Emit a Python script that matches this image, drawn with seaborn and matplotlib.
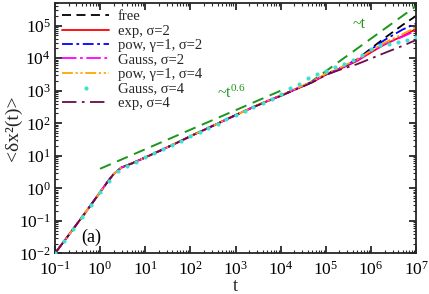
import numpy as np
import pandas as pd
import matplotlib
matplotlib.use("Agg")
import matplotlib.pyplot as plt
import matplotlib.ticker as mticker
import seaborn as sns

# ---------------- data ----------------
t = [0.1, 0.2, 0.5, 1, 1.5, 2, 3, 5, 10, 20, 50, 100, 300, 1000, 3000,
     1e4, 2e4, 5e4, 1e5, 2e5, 5e5, 1e6, 2e6, 5e6, 1e7]

y_free = [0.01, 0.036, 0.2, 0.76, 1.66, 2.75, 4.4, 5.8, 8.9, 13.8, 25, 40, 81, 178, 355,
          708, 1070, 1860, 3160, 4790, 9330, 2.0e4, 4.17e4, 1.05e5, 2.0e5]
y_exp2 = [0.01, 0.036, 0.2, 0.76, 1.66, 2.75, 4.4, 5.8, 8.9, 13.8, 25, 40, 81, 178, 355,
          700, 1060, 1840, 3100, 4570, 8320, 1.51e4, 2.63e4, 4.79e4, 7.94e4]
y_pow2 = [0.01, 0.036, 0.2, 0.76, 1.66, 2.75, 4.4, 5.8, 8.9, 13.8, 25, 40, 81, 178, 355,
          710, 1080, 1880, 3200, 4680, 9120, 1.86e4, 3.63e4, 7.59e4, 1.17e5]
y_gauss2 = [0.01, 0.036, 0.2, 0.76, 1.66, 2.75, 4.4, 5.8, 8.9, 13.8, 25, 40, 81, 178, 355,
            715, 1090, 1900, 3200, 4790, 8710, 1.58e4, 2.75e4, 4.57e4, 7.08e4]
y_pow4 = [0.01, 0.036, 0.2, 0.76, 1.66, 2.75, 4.4, 5.8, 8.9, 13.8, 25, 40, 81, 178, 360,
          720, 1100, 1950, 3300, 5010, 9330, 1.70e4, 3.02e4, 5.50e4, 8.91e4]
y_exp4 = [0.01, 0.036, 0.2, 0.76, 1.66, 2.75, 4.4, 5.8, 8.9, 13.8, 25, 40, 81, 178, 350,
          690, 1040, 1800, 3050, 4370, 6610, 9770, 1.45e4, 2.40e4, 3.63e4]

t_gauss4 = [0.1, 0.16, 0.25, 0.4, 0.63, 1.0, 1.6, 2.5, 4.0, 6.3, 10, 16, 25, 40, 63, 100,
            160, 250, 400, 630, 1000, 1600, 2500, 4000, 6300, 1e4, 1.6e4, 2.5e4, 4e4,
            6.3e4, 1e5, 1.6e5, 2.5e5, 4e5, 6.3e5, 1e6, 1.6e6, 2.5e6, 4e6, 6.3e6, 1e7]
y_gauss4 = [0.01, 0.0234, 0.055, 0.132, 0.309, 0.76, 1.74, 3.31, 4.79, 6.46, 8.91, 12.0,
            16.2, 21.9, 29.5, 39.8, 53.7, 72.4, 97.7, 132, 178, 234, 316, 427, 575, 794,
            1175, 1660, 2400, 3160, 4170, 5250, 6610, 8910, 1.26e4, 1.86e4, 2.51e4,
            2.82e4, 3.16e4, 3.72e4, 4.57e4]

guide06_t = [1, 1.2e4]
guide06_y = [4.0, 1120]
guide1_t = [4e4, 1e7]
guide1_y = [1600, 4.0e5]

labels = ["free", "exp, σ=2", "pow, γ=1, σ=2", "Gauss, σ=2",
          "pow, γ=1, σ=4", "Gauss, σ=4", "exp, σ=4"]

# ---------------- style ----------------
sns.set_style("ticks")
plt.rcParams["font.family"] = ["Liberation Serif", "DejaVu Serif"]
plt.rcParams["mathtext.fontset"] = "custom"
plt.rcParams["mathtext.rm"] = "Liberation Serif"
plt.rcParams["mathtext.it"] = "Liberation Serif:italic"
plt.rcParams["mathtext.default"] = "rm"
plt.rcParams["axes.unicode_minus"] = False
plt.rcParams["axes.linewidth"] = 1.3
plt.rcParams["xtick.direction"] = "in"
plt.rcParams["ytick.direction"] = "in"
plt.rcParams["xtick.top"] = True
plt.rcParams["ytick.right"] = True

fig = plt.figure(figsize=(4.29, 2.94), dpi=100)
ax = fig.add_axes([0.128, 0.138, 0.842, 0.852])

lw = 1.3
green = "#1a961a"

def line(x, y, **kw):
    df = pd.DataFrame({"t": x, "y": y})
    sns.lineplot(data=df, x="t", y="y", ax=ax, errorbar=None, sort=False, **kw)

line(guide06_t, guide06_y, color=green, lw=1.4, linestyle=(0, (6, 3.5)))
line(guide1_t, guide1_y, color=green, lw=1.4, linestyle=(0, (6, 3.5)))

line(t, y_free, color="black", lw=lw, linestyle=(0, (5, 3)), label=labels[0])
line(t, y_exp2, color="#ff0000", lw=lw, linestyle="-", label=labels[1])
line(t, y_pow2, color="#0000ff", lw=lw, linestyle=(0, (6, 2, 1.5, 2)), label=labels[2])
line(t, y_gauss2, color="#ff00ff", lw=lw, linestyle=(0, (8, 2, 1.5, 2)), label=labels[3])
line(t, y_pow4, color="#ffa500", lw=lw, linestyle=(0, (6, 1.5, 1.2, 1.5, 1.2, 1.5)), label=labels[4])
sns.scatterplot(x=t_gauss4, y=y_gauss4, ax=ax, color="#40e0d0", s=9, linewidth=0,
                label=labels[5], zorder=3)
line(t, y_exp4, color="#6b0a4a", lw=lw, linestyle=(0, (8, 3, 1.5, 3)), label=labels[6])

ax.set_xscale("log")
ax.set_yscale("log")
ax.set_xlim(0.1, 1e7)
ax.set_ylim(1e-2, 5e5)

ax.xaxis.set_major_locator(mticker.LogLocator(base=10, numticks=20))
ax.yaxis.set_major_locator(mticker.LogLocator(base=10, numticks=20))
ax.xaxis.set_minor_locator(mticker.LogLocator(base=10, subs=np.arange(2, 10), numticks=200))
ax.yaxis.set_minor_locator(mticker.LogLocator(base=10, subs=np.arange(2, 10), numticks=200))
ax.xaxis.set_minor_formatter(mticker.NullFormatter())
ax.yaxis.set_minor_formatter(mticker.NullFormatter())
ax.tick_params(which="major", length=5, width=1.1, labelsize=12.5, colors="black")
ax.tick_params(which="minor", length=2.5, width=0.8)
ax.tick_params(axis="x", pad=5)
ax.tick_params(axis="y", pad=3)

ax.set_xlabel("t", fontsize=13.5, labelpad=0)
ax.set_ylabel("<δx²(t)>", fontsize=14, labelpad=-2)

ax.text(10**2.59, 10**2.79, r"~t$^{0.6}$", color=green, fontsize=11.5)
ax.text(10**5.59, 10**4.93, "~t", color=green, fontsize=11.5)
ax.text(10**-0.42, 10**-1.65, "(a)", color="black", fontsize=13)

leg = ax.legend(loc="upper left", bbox_to_anchor=(0.0, 1.0), frameon=False,
                fontsize=10.5, labelspacing=0.08, handlelength=3.2, handletextpad=0.6,
                borderaxespad=0.2, borderpad=0.3, scatterpoints=1)

fig.savefig("out.png", dpi=100)
